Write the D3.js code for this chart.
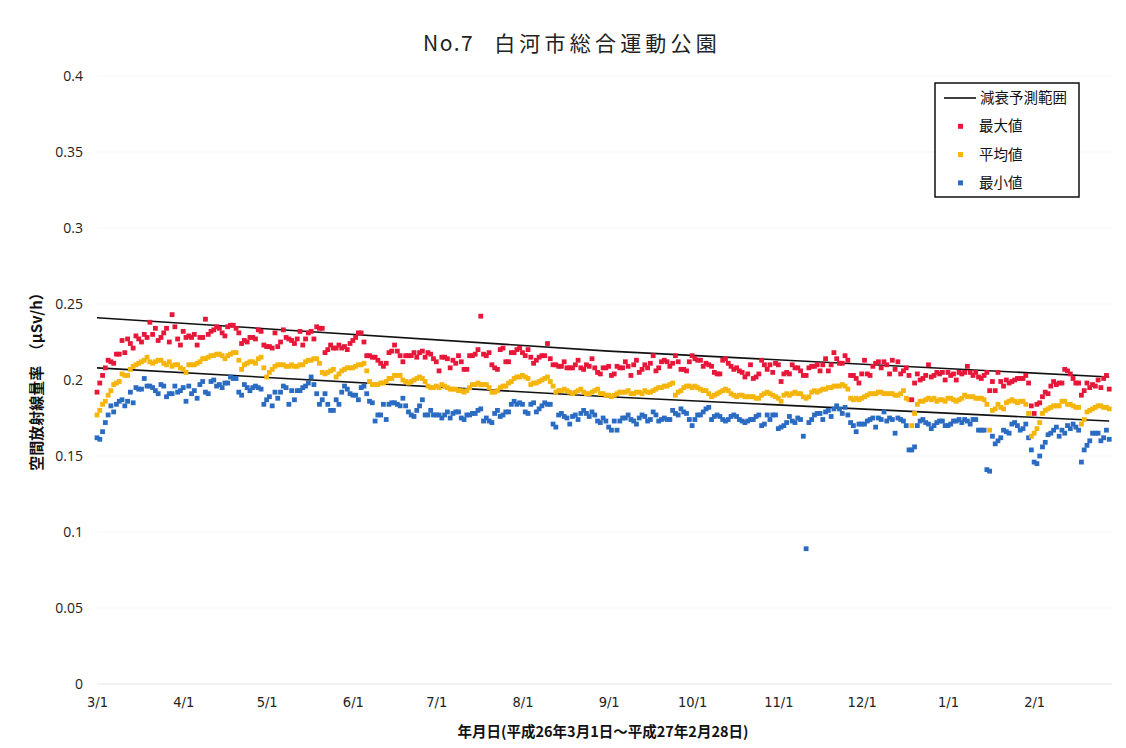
<!DOCTYPE html>
<html><head><meta charset="utf-8">
<script src="https://cdn.jsdelivr.net/npm/d3@7"></script>
<style>body{margin:0;background:#fff}</style>
</head><body>
<svg id="c" width="1126" height="748"></svg>
<script>
const titleLead = "No.7";
const titleMain = "白河市総合運動公園";
const xTitle = "年月日(平成26年3月1日～平成27年2月28日)";
const yTitle = "空間放射線量率\u3000（μSv/h）";
const legendLabels = ["減衰予測範囲", "最大値", "平均値", "最小値"];
const startDate = [2014, 2, 1];
const endDate = [2015, 2, 1];
const yTicks = [0, 0.05, 0.1, 0.15, 0.2, 0.25, 0.3, 0.35, 0.4];
const yTickLabels = ["0", "0.05", "0.1", "0.15", "0.2", "0.25", "0.3", "0.35", "0.4"];
const xTickLabels = ["3/1","4/1","5/1","6/1","7/1","8/1","9/1","10/1","11/1","12/1","1/1","2/1"];
const decayDays = [0, 184, 364];
const decayUpper = [0.241, 0.219, 0.202];
const decayLower = [0.208, 0.189, 0.173];

const maxVals = [
0.192,0.198,0.203,0.208,0.213,0.212,0.211,0.217,0.217,0.226,0.218,0.227,0.224,0.221,0.229,0.227,0.225,0.230,0.228,0.238,0.230,0.234,0.226,0.228,0.231,0.234,0.225,0.243,0.235,0.227,0.223,0.232,0.228,0.229,0.228,0.230,0.223,0.228,0.228,0.240,0.230,0.232,0.233,0.235,0.234,0.231,0.229,
0.235,0.236,0.236,0.234,0.231,0.224,0.226,0.225,0.228,0.228,0.227,0.233,0.232,0.223,0.222,0.222,0.221,0.231,0.222,0.225,0.233,0.228,0.227,0.226,0.224,0.227,0.232,0.223,0.227,0.231,0.232,0.227,0.235,0.234,0.234,0.218,0.220,0.223,0.221,0.221,0.223,0.221,0.222,0.220,0.224,0.226,
0.228,0.231,0.231,0.225,0.216,0.216,0.215,0.215,0.213,0.211,0.209,0.211,0.218,0.219,0.223,0.219,0.216,0.212,0.216,0.216,0.216,0.218,0.215,0.218,0.219,0.215,0.218,0.217,0.214,0.212,0.206,0.215,0.215,0.214,0.208,0.213,0.211,0.216,0.212,0.207,0.207,0.216,0.216,0.217,0.220,0.242,0.217,
0.216,0.218,0.210,0.208,0.207,0.220,0.221,0.212,0.212,0.218,0.218,0.220,0.221,0.218,0.216,0.220,0.215,0.211,0.213,0.215,0.216,0.216,0.224,0.214,0.210,0.210,0.209,0.209,0.212,0.208,0.208,0.208,0.210,0.213,0.208,0.207,0.210,0.209,0.214,0.208,0.205,0.204,0.208,0.208,0.209,0.203,
0.204,0.209,0.208,0.208,0.212,0.209,0.203,0.210,0.213,0.205,0.207,0.210,0.208,0.211,0.216,0.206,0.208,0.212,0.213,0.212,0.209,0.211,0.216,0.212,0.207,0.207,0.206,0.212,0.216,0.214,0.213,0.213,0.209,0.211,0.210,0.209,0.205,0.204,0.204,0.213,0.214,0.211,0.209,0.207,0.208,0.206,0.205,0.202,
0.204,0.210,0.201,0.202,0.204,0.213,0.210,0.207,0.210,0.205,0.211,0.210,0.199,0.204,0.205,0.204,0.210,0.208,0.208,0.206,0.203,0.203,0.208,0.209,0.209,0.210,0.206,0.210,0.214,0.206,0.210,0.218,0.214,0.211,0.211,0.216,0.213,0.203,0.203,0.201,0.198,0.204,0.213,0.204,0.203,0.209,
0.211,0.212,0.208,0.212,0.210,0.204,0.213,0.207,0.212,0.204,0.206,0.208,0.203,0.187,0.198,0.204,0.200,0.201,0.203,0.210,0.202,0.203,0.205,0.204,0.205,0.200,0.205,0.203,0.204,0.200,0.205,0.204,0.205,0.209,0.205,0.203,0.205,0.202,0.201,0.203,0.205,0.193,0.199,0.193,0.205,0.199,0.196,
0.200,0.198,0.199,0.200,0.201,0.201,0.201,0.203,0.198,0.183,0.178,0.184,0.185,0.189,0.192,0.191,0.196,0.199,0.197,0.198,0.198,0.207,0.206,0.204,0.201,0.198,0.198,0.190,0.193,0.198,0.195,0.197,0.196,0.200,0.195,0.201,0.203,0.194
];
const meanVals = [
0.177,0.180,0.184,0.186,0.190,0.193,0.197,0.198,0.199,0.204,0.203,0.203,0.207,0.209,0.210,0.211,0.212,0.213,0.215,0.212,0.211,0.212,0.213,0.213,0.211,0.210,0.212,0.209,0.210,0.210,0.208,0.207,0.205,0.210,0.210,0.210,0.211,0.212,0.214,0.214,0.215,0.216,0.216,0.217,0.217,0.216,0.214,
0.216,0.217,0.218,0.218,0.213,0.207,0.210,0.211,0.212,0.212,0.211,0.214,0.215,0.208,0.202,0.205,0.207,0.209,0.210,0.210,0.210,0.209,0.209,0.210,0.209,0.209,0.210,0.210,0.212,0.213,0.213,0.214,0.214,0.211,0.205,0.204,0.205,0.206,0.207,0.202,0.204,0.206,0.207,0.208,0.208,0.208,
0.209,0.210,0.210,0.211,0.206,0.199,0.197,0.197,0.197,0.198,0.198,0.199,0.201,0.201,0.203,0.203,0.203,0.200,0.199,0.198,0.199,0.200,0.201,0.202,0.201,0.199,0.196,0.195,0.195,0.196,0.195,0.197,0.196,0.195,0.194,0.194,0.194,0.193,0.193,0.192,0.193,0.195,0.197,0.197,0.198,0.197,0.197,
0.197,0.195,0.192,0.192,0.193,0.195,0.196,0.196,0.198,0.199,0.201,0.202,0.202,0.203,0.202,0.201,0.197,0.198,0.198,0.199,0.200,0.201,0.202,0.199,0.196,0.192,0.193,0.193,0.194,0.193,0.192,0.191,0.192,0.193,0.194,0.192,0.191,0.191,0.192,0.193,0.194,0.191,0.191,0.190,0.190,0.189,
0.190,0.191,0.192,0.192,0.192,0.193,0.191,0.191,0.192,0.192,0.191,0.193,0.192,0.192,0.193,0.194,0.195,0.195,0.196,0.196,0.197,0.198,0.190,0.192,0.193,0.195,0.196,0.196,0.195,0.196,0.195,0.194,0.193,0.193,0.191,0.189,0.190,0.191,0.192,0.193,0.194,0.193,0.191,0.190,0.189,0.190,0.190,0.189,
0.189,0.189,0.189,0.188,0.188,0.190,0.191,0.192,0.191,0.190,0.189,0.188,0.186,0.190,0.191,0.190,0.191,0.192,0.191,0.191,0.189,0.188,0.189,0.192,0.193,0.192,0.193,0.194,0.194,0.195,0.195,0.196,0.196,0.196,0.197,0.196,0.194,0.188,0.187,0.188,0.187,0.188,0.189,0.190,0.191,0.191,
0.191,0.192,0.192,0.191,0.191,0.191,0.191,0.190,0.190,0.191,0.193,0.188,0.187,0.170,0.178,0.184,0.186,0.186,0.187,0.188,0.187,0.188,0.186,0.187,0.187,0.186,0.188,0.188,0.187,0.186,0.187,0.188,0.190,0.189,0.189,0.189,0.188,0.188,0.188,0.187,0.184,0.167,0.180,0.181,0.184,0.182,0.181,
0.185,0.186,0.187,0.186,0.185,0.186,0.186,0.184,0.178,0.163,0.165,0.168,0.172,0.178,0.180,0.181,0.182,0.183,0.183,0.183,0.186,0.186,0.184,0.184,0.183,0.182,0.182,0.171,0.174,0.179,0.180,0.181,0.182,0.183,0.183,0.182,0.182,0.181
];
const minVals = [
0.162,0.161,0.166,0.172,0.177,0.183,0.179,0.184,0.186,0.187,0.183,0.186,0.192,0.185,0.195,0.194,0.194,0.201,0.196,0.196,0.195,0.193,0.191,0.197,0.196,0.189,0.191,0.191,0.196,0.192,0.193,0.195,0.186,0.196,0.191,0.193,0.188,0.197,0.199,0.192,0.191,0.199,0.200,0.196,0.197,0.195,0.198,
0.198,0.202,0.201,0.201,0.192,0.190,0.197,0.195,0.193,0.195,0.196,0.195,0.194,0.184,0.187,0.189,0.183,0.192,0.188,0.192,0.196,0.195,0.184,0.193,0.187,0.193,0.193,0.195,0.196,0.198,0.202,0.197,0.191,0.184,0.187,0.191,0.184,0.180,0.180,0.187,0.184,0.192,0.196,0.194,0.191,0.190,
0.190,0.187,0.195,0.196,0.191,0.186,0.185,0.173,0.177,0.177,0.184,0.174,0.184,0.185,0.185,0.184,0.183,0.188,0.183,0.179,0.177,0.176,0.180,0.183,0.187,0.177,0.177,0.180,0.177,0.177,0.177,0.175,0.177,0.179,0.175,0.178,0.179,0.179,0.175,0.174,0.177,0.177,0.178,0.178,0.180,0.181,0.173,
0.175,0.173,0.172,0.178,0.180,0.176,0.177,0.179,0.179,0.184,0.186,0.184,0.185,0.184,0.179,0.178,0.184,0.185,0.179,0.181,0.183,0.185,0.184,0.184,0.171,0.169,0.177,0.178,0.176,0.175,0.171,0.176,0.177,0.174,0.178,0.180,0.178,0.176,0.179,0.177,0.173,0.172,0.175,0.173,0.169,0.167,
0.173,0.167,0.173,0.175,0.175,0.177,0.174,0.173,0.171,0.175,0.177,0.176,0.173,0.174,0.179,0.177,0.173,0.174,0.175,0.174,0.174,0.180,0.178,0.177,0.181,0.179,0.178,0.174,0.170,0.174,0.177,0.177,0.179,0.181,0.182,0.174,0.176,0.177,0.176,0.174,0.173,0.174,0.176,0.177,0.176,0.174,0.173,0.172,
0.173,0.174,0.174,0.176,0.177,0.170,0.171,0.177,0.174,0.177,0.177,0.168,0.169,0.170,0.172,0.176,0.173,0.172,0.175,0.174,0.163,0.089,0.172,0.174,0.177,0.178,0.178,0.174,0.179,0.180,0.176,0.181,0.183,0.181,0.178,0.182,0.177,0.172,0.170,0.166,0.171,0.171,0.171,0.173,0.174,0.175,
0.169,0.175,0.174,0.179,0.173,0.175,0.174,0.165,0.175,0.174,0.173,0.170,0.154,0.154,0.156,0.170,0.173,0.174,0.172,0.171,0.168,0.170,0.172,0.173,0.173,0.170,0.170,0.171,0.173,0.173,0.174,0.172,0.174,0.173,0.171,0.174,0.174,0.167,0.167,0.167,0.141,0.140,0.163,0.158,0.160,0.162,0.167,
0.166,0.165,0.171,0.172,0.170,0.167,0.168,0.171,0.162,0.154,0.146,0.145,0.150,0.156,0.159,0.164,0.165,0.167,0.169,0.163,0.167,0.165,0.170,0.168,0.171,0.169,0.167,0.146,0.154,0.157,0.160,0.165,0.165,0.165,0.160,0.162,0.167,0.161
];

const colors = {max: "#e8173a", mean: "#f5b50a", min: "#2b6cc2"};
const svg = d3.select("#c");
svg.append("rect").attr("width",1126).attr("height",748).attr("fill","#fff");

const t0 = new Date(...startDate), t1 = new Date(...endDate);
const x = d3.scaleTime().domain([t0, t1]).range([97, 1112]);
const y = d3.scaleLinear().domain([0, 0.4]).range([684, 76]);
const day = i => d3.timeDay.offset(t0, i);

// very faint gridlines
svg.append("g").selectAll("line").data(yTicks.slice(1)).join("line")
  .attr("x1", 97).attr("x2", 1112).attr("y1", d => y(d)).attr("y2", d => y(d))
  .attr("stroke", "#f5f5f5").attr("stroke-width", 1);
svg.append("line").attr("x1",97).attr("x2",1112).attr("y1",y(0)).attr("y2",y(0)).attr("stroke","#e6e6e6");

// y axis
const yAxis = d3.axisLeft(y).tickValues(yTicks).tickFormat((d,i) => yTickLabels[i]).tickSize(0).tickPadding(0);
const gy = svg.append("g").attr("transform","translate(83,0)").call(yAxis);
gy.select(".domain").remove();
gy.selectAll("text").attr("font-family","'Open Sans','DejaVu Sans',sans-serif").attr("font-size",14).attr("fill","#222").attr("dy","0.35em");

// x axis
const months = d3.timeMonth.range(t0, t1);
const xAxis = d3.axisBottom(x).tickValues(months).tickFormat((d,i) => xTickLabels[i]).tickSize(0).tickPadding(0);
const gx = svg.append("g").attr("transform","translate(0,697)").call(xAxis);
gx.select(".domain").remove();
gx.selectAll("text").attr("font-family","'Liberation Sans Narrow','DejaVu Sans Condensed',sans-serif").attr("font-size",14.5).attr("fill","#222").attr("dy","0.71em");

// decay lines
const line = d3.line().x(d => x(day(d[0]))).y(d => y(d[1])).curve(d3.curveMonotoneX);
[decayUpper, decayLower].forEach(arr => {
  svg.append("path").datum(decayDays.map((d,i) => [d, arr[i]]))
    .attr("d", line).attr("fill","none").attr("stroke","#111").attr("stroke-width",1.6);
});

// markers
const ms = 4.8;
function drawSeries(vals, col) {
  svg.append("g").selectAll("rect").data(vals).join("rect")
    .attr("x", (d,i) => x(day(i)) - ms/2).attr("y", d => y(d) - ms/2)
    .attr("width", ms).attr("height", ms).attr("fill", col);
}
drawSeries(minVals, colors.min);
drawSeries(meanVals, colors.mean);
drawSeries(maxVals, colors.max);

// title
const tt = svg.append("text").attr("x", 572).attr("y", 51).attr("text-anchor","middle")
  .attr("font-family","'Noto Sans CJK JP',sans-serif").attr("font-size",21).attr("fill","#222");
tt.append("tspan").attr("letter-spacing",1.5).text(titleLead);
tt.append("tspan").attr("dx",20).attr("letter-spacing",4.2).text(titleMain);

// axis titles
svg.append("text").attr("x", 603).attr("y", 737).attr("text-anchor","middle")
  .attr("font-family","'Noto Sans CJK JP',sans-serif").attr("font-size",14.5).attr("font-weight","bold")
  .attr("fill","#111").text(xTitle);
svg.append("text").attr("transform","translate(42,378) rotate(-90)").attr("text-anchor","middle")
  .attr("font-family","'Noto Sans CJK JP',sans-serif").attr("font-size",15).attr("font-weight","bold")
  .attr("fill","#111").text(yTitle);

// legend
const lg = svg.append("g");
lg.append("rect").attr("x",935).attr("y",83).attr("width",144).attr("height",114)
  .attr("fill","#fff").attr("stroke","#111").attr("stroke-width",1.5);
lg.append("line").attr("x1",944).attr("x2",976).attr("y1",98).attr("y2",98).attr("stroke","#111").attr("stroke-width",1.6);
const legCols = [null, colors.max, colors.mean, colors.min];
legendLabels.forEach((lab, i) => {
  const yy = 98 + i * 28.3;
  if (i > 0) lg.append("rect").attr("x", 958).attr("y", yy - 2.5).attr("width",5).attr("height",5).attr("fill", legCols[i]);
  lg.append("text").attr("x", i === 0 ? 980 : 979).attr("y", yy).attr("dy","0.35em")
    .attr("font-family","'Noto Sans CJK JP',sans-serif").attr("font-size",14.5).attr("fill","#111").text(lab);
});
</script>
</body></html>
